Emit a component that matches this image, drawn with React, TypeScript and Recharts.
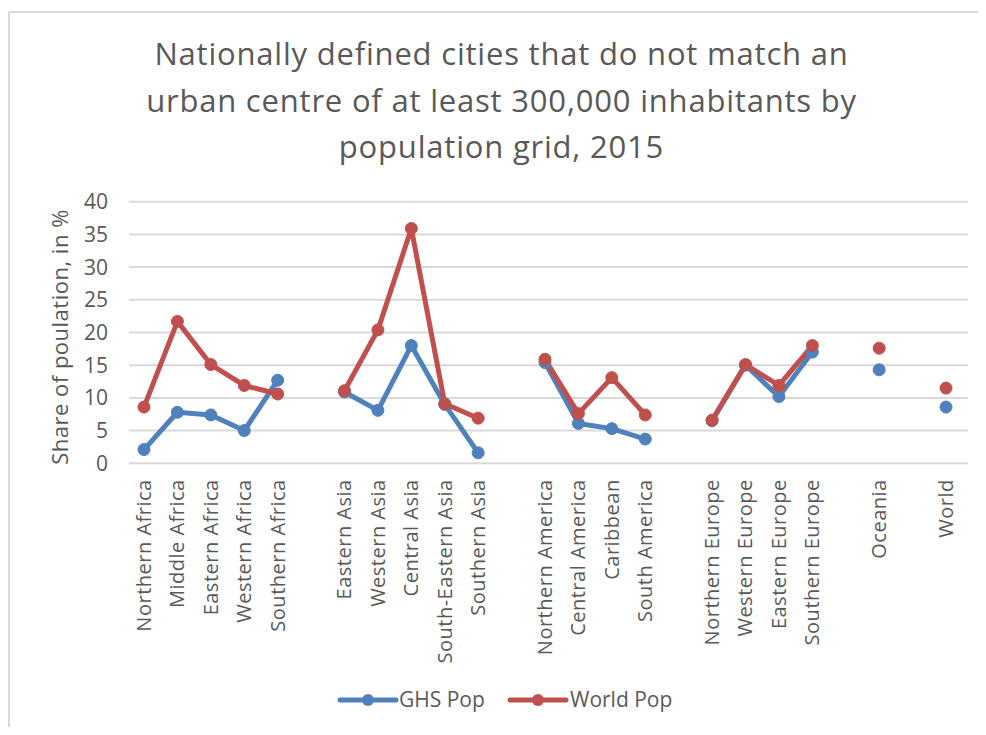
import React from "react";
import { LineChart, Line, XAxis, YAxis, CartesianGrid } from "recharts";

const categories = [
  "Northern Africa", "Middle Africa", "Eastern Africa", "Western Africa", "Southern Africa", "",
  "Eastern Asia", "Western Asia", "Central Asia", "South-Eastern Asia", "Southern Asia", "",
  "Northern America", "Central America", "Caribbean", "South America", "",
  "Northern Europe", "Western Europe", "Eastern Europe", "Southern Europe", "",
  "Oceania", "", "World",
];

const ghsPop = [
  2.1, 7.8, 7.4, 5.0, 12.7, null,
  10.9, 8.1, 18.0, 9.0, 1.6, null,
  15.4, 6.1, 5.3, 3.7, null,
  6.5, 15.0, 10.2, 17.0, null,
  14.3, null, 8.6,
];

const worldPop = [
  8.6, 21.7, 15.1, 11.9, 10.6, null,
  11.1, 20.4, 35.9, 9.1, 6.9, null,
  15.9, 7.6, 13.1, 7.4, null,
  6.6, 15.1, 11.9, 18.0, null,
  17.6, null, 11.5,
];

const yTicks = [0, 5, 10, 15, 20, 25, 30, 35, 40];

const titleLines = [
  "Nationally defined cities that do not match an",
  "urban centre of at least 300,000 inhabitants by",
  "population grid, 2015",
];

const yLabel = "Share of poulation, in %";
const seriesNames = ["GHS Pop", "World Pop"];

const BLUE = "#4F81BD";
const RED = "#C0504D";
const TEXT = "#595959";
const FONT = "'Open Sans', sans-serif";

const data = categories.map((name, i) => ({
  name,
  ghs: ghsPop[i],
  world: worldPop[i],
}));

const W = 970;
const H = 719;

const XTick = (props: any) => {
  const { x, y, payload } = props;
  return (
    <text
      x={x}
      y={y}
      transform={`rotate(-90, ${x}, ${y})`}
      textAnchor="end"
      dy="0.35em"
      fill={TEXT}
      fontSize={20}
      letterSpacing={0.5}
      fontFamily={FONT}
    >
      {payload.value}
    </text>
  );
};

export default function App() {
  return (
    <div style={{ position: "relative", width: W, height: H, overflow: "hidden", background: "#fff" }}>
      <svg
        width={W}
        height={H}
        style={{ position: "absolute", left: 0, top: 0 }}
      >
        <line x1={1} y1={4} x2={W} y2={4} stroke="#D9D9D9" strokeWidth={2} />
        <line x1={1} y1={4} x2={1} y2={H} stroke="#D9D9D9" strokeWidth={2} />
      </svg>
      <div style={{ position: "absolute", left: 0, top: 0 }}>
        <LineChart
          width={W}
          height={H}
          data={data}
          margin={{ top: 193.7, right: 10, bottom: 63.7, left: 61 }}
        >
          <CartesianGrid vertical={false} stroke="#D9D9D9" strokeWidth={2} />
          <XAxis
            dataKey="name"
            interval={0}
            height={200}
            axisLine={false}
            tickLine={false}
            tickSize={0}
            tickMargin={16}
            padding={{ left: 15, right: 22 }}
            tick={<XTick />}
          />
          <YAxis
            domain={[0, 40]}
            ticks={yTicks}
            width={60}
            axisLine={false}
            tickLine={false}
            tickSize={0}
            tickMargin={21}
            tick={{ fill: TEXT, fontSize: 21, fontFamily: FONT }}
          />
          <Line
            dataKey="ghs"
            stroke={BLUE}
            strokeWidth={5}
            strokeLinejoin="round"
            dot={{ r: 6, fill: BLUE, stroke: BLUE, strokeWidth: 1 }}
            isAnimationActive={false}
            connectNulls={false}
          />
          <Line
            dataKey="world"
            stroke={RED}
            strokeWidth={5}
            strokeLinejoin="round"
            dot={{ r: 6, fill: RED, stroke: RED, strokeWidth: 1 }}
            isAnimationActive={false}
            connectNulls={false}
          />
        </LineChart>
      </div>
      <svg
        width={W}
        height={H}
        style={{ position: "absolute", left: 0, top: 0, pointerEvents: "none" }}
      >
        {titleLines.map((t, i) => (
          <text
            key={i}
            x={493.5}
            y={57 + i * 46.5}
            textAnchor="middle"
            fill={TEXT}
            fontSize={31}
            letterSpacing={0.8}
            fontFamily={FONT}
          >
            {t}
          </text>
        ))}
        <text
          x={52}
          y={329}
          transform="rotate(-90, 52, 329)"
          textAnchor="middle"
          dy="0.35em"
          fill={TEXT}
          fontSize={22}
          letterSpacing={0.5}
          fontFamily={FONT}
        >
          {yLabel}
        </text>
        <g>
          <line x1={332} y1={692} x2={388} y2={692} stroke={BLUE} strokeWidth={5} strokeLinecap="round" />
          <circle cx={360} cy={692} r={6} fill={BLUE} />
          <text x={391} y={692} dy="0.35em" fill={TEXT} fontSize={21} fontFamily={FONT}>
            {seriesNames[0]}
          </text>
          <line x1={502} y1={692} x2={558} y2={692} stroke={RED} strokeWidth={5} strokeLinecap="round" />
          <circle cx={530} cy={692} r={6} fill={RED} />
          <text x={562} y={692} dy="0.35em" fill={TEXT} fontSize={21} fontFamily={FONT}>
            {seriesNames[1]}
          </text>
        </g>
      </svg>
    </div>
  );
}
